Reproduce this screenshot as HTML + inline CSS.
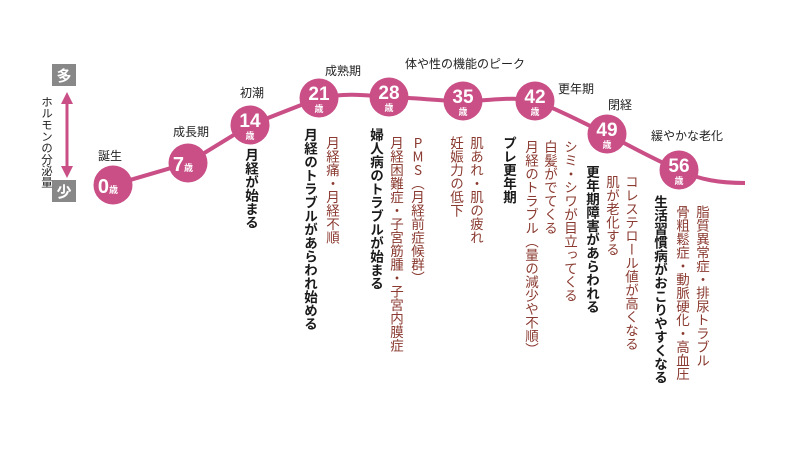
<!DOCTYPE html>
<html><head><meta charset="utf-8"><style>
body{margin:0;width:800px;height:450px;background:#fff;position:relative;overflow:hidden;font-family:"Liberation Sans","Noto Sans CJK JP",sans-serif}
.c{position:absolute;writing-mode:vertical-rl;font-size:13.5px;line-height:16px;white-space:nowrap;width:16px;font-family:"Noto Sans CJK JP",sans-serif}
.b{color:#1a1a1a;font-weight:bold}
.r{color:#8a3a30}
.u{text-orientation:upright}
.l{position:absolute;font-size:12px;color:#222;white-space:nowrap}
</style></head><body>
<svg width="800" height="450" style="position:absolute;left:0;top:0">
<path d="M113,185 L188,163 L250,125 L319,98 C350,92 370,96 389,97 C420,98 440,101 463,101 C490,101 510,96 535,101 C560,110 585,124 607,134 C630,146 655,160 679,170 C700,180 720,183 745,183" fill="none" stroke="#c94f86" stroke-width="4"/>
<g fill="#c94f86">
<circle cx="113" cy="185" r="19.5"/><circle cx="188" cy="163" r="19.5"/><circle cx="250" cy="125" r="19.5"/>
<circle cx="319" cy="98" r="19.5"/><circle cx="389" cy="97" r="19.5"/><circle cx="463" cy="101" r="19.5"/>
<circle cx="535" cy="101" r="19.5"/><circle cx="607" cy="134" r="19.5"/><circle cx="679" cy="170" r="19.5"/>
</g>
<g fill="#fff" font-family="Liberation Sans,Noto Sans CJK JP,sans-serif" font-weight="bold" text-anchor="middle">
<text x="108" y="193" font-size="20">0<tspan font-size="9">歳</tspan></text>
<text x="183" y="171" font-size="20">7<tspan font-size="9">歳</tspan></text>
<g font-size="19"><text x="250" y="127">14</text><text x="319" y="100">21</text><text x="389" y="99">28</text><text x="463" y="103">35</text><text x="535" y="103">42</text><text x="607" y="136">49</text><text x="679" y="172">56</text></g>
<g font-size="9"><text x="250" y="139">歳</text><text x="319" y="112">歳</text><text x="389" y="111">歳</text><text x="463" y="115">歳</text><text x="535" y="115">歳</text><text x="607" y="148">歳</text><text x="679" y="184">歳</text></g>
</g>
<rect x="52" y="64" width="24" height="22" fill="#888"/>
<rect x="52" y="180" width="24" height="22" fill="#888"/>
<text x="64" y="81" fill="#fff" font-size="15" font-weight="bold" text-anchor="middle" font-family="Noto Sans CJK JP,sans-serif">多</text>
<text x="64" y="197" fill="#fff" font-size="15" font-weight="bold" text-anchor="middle" font-family="Noto Sans CJK JP,sans-serif">少</text>
<line x1="67" y1="100" x2="67" y2="170" stroke="#c94f86" stroke-width="3"/>
<polygon points="67,92 61,104 73,104" fill="#c94f86"/>
<polygon points="67,178 61,166 73,166" fill="#c94f86"/>
</svg>
<div class="c" style="left:38px;top:96px;font-size:11.5px;line-height:14px;color:#222">ホルモンの分泌量</div>
<div class="l" style="left:98px;top:147px">誕生</div>
<div class="l" style="left:173px;top:123px">成長期</div>
<div class="l" style="left:240px;top:84px">初潮</div>
<div class="l" style="left:325px;top:62px">成熟期</div>
<div class="l" style="left:405px;top:55px">体や性の機能のピーク</div>
<div class="l" style="left:558px;top:80px">更年期</div>
<div class="l" style="left:608px;top:96px">閉経</div>
<div class="l" style="left:651px;top:127px">緩やかな老化</div>

<div class="c b" style="left:244px;top:148px">月経が始まる</div>
<div class="c b" style="left:303px;top:128px">月経のトラブルがあらわれ始める</div>
<div class="c r" style="left:325px;top:136px">月経痛・月経不順</div>
<div class="c b" style="left:369px;top:128px">婦人病のトラブルが始まる</div>
<div class="c r" style="left:389px;top:136px">月経困難症・子宮筋腫・子宮内膜症</div>
<div class="c r" style="left:410px;top:136px"><span class="u">PMS</span>（月経前症候群）</div>
<div class="c r" style="left:449px;top:136px">妊娠力の低下</div>
<div class="c r" style="left:469px;top:136px">肌あれ・肌の疲れ</div>
<div class="c b" style="left:502px;top:136px">プレ更年期</div>
<div class="c r" style="left:524px;top:140px">月経のトラブル（量の減少や不順）</div>
<div class="c r" style="left:543px;top:140px">白髪がでてくる</div>
<div class="c r" style="left:563px;top:140px">シミ・シワが目立ってくる</div>
<div class="c b" style="left:585px;top:165px">更年期障害があらわれる</div>
<div class="c r" style="left:605px;top:175px">肌が老化する</div>
<div class="c r" style="left:624px;top:175px">コレステロール値が高くなる</div>
<div class="c b" style="left:653px;top:195px">生活習慣病がおこりやすくなる</div>
<div class="c r" style="left:675px;top:205px">骨粗鬆症・動脈硬化・高血圧</div>
<div class="c r" style="left:695px;top:205px">脂質異常症・排尿トラブル</div>
</body></html>
